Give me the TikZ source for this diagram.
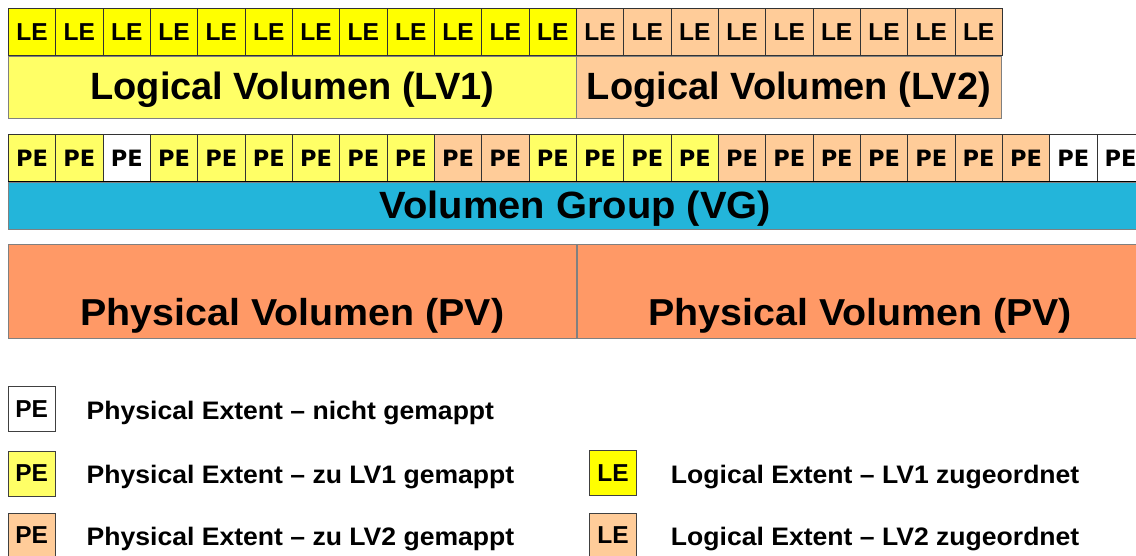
\documentclass[tikz,border=0pt]{standalone}
\usepackage{fontspec}
\setmainfont{Liberation Sans}
\newfontfamily\pefont{DejaVu Sans}
\newfontfamily\widefont[FakeStretch=1.05, Ligatures=TeX]{Liberation Sans}
\usetikzlibrary{positioning}

\definecolor{leyellow}{HTML}{FFFF00}
\definecolor{lvyellow}{HTML}{FFFF66}
\definecolor{lvpeach}{HTML}{FFCC99}
\definecolor{vgblue}{HTML}{23B5DA}
\definecolor{pvorange}{HTML}{FF9966}

\begin{document}
\begin{tikzpicture}[x=1pt, y=-1pt,
  lecell/.style={draw=black!80, line width=0.8pt, minimum width=47.33pt,
    minimum height=47pt, inner sep=0pt, anchor=north west,
    font=\bfseries\fontsize{24.5}{24}\selectfont},
  pecell/.style={lecell, font=\pefont\bfseries\fontsize{22.5}{23}\selectfont},
  bigbox/.style={draw=black!50, line width=0.8pt, inner sep=0pt, anchor=north west,
    text depth=0pt, font=\bfseries\fontsize{38}{38}\selectfont},
  bigtext/.style={inner sep=0pt, anchor=base, font=\widefont\bfseries\fontsize{37.5}{38}\selectfont},
  keybox/.style={draw=black!75, line width=0.8pt, minimum width=46.7pt,
    minimum height=45pt, inner sep=0pt, font=\bfseries\fontsize{24.5}{24}\selectfont},
  keytext/.style={right=31pt of #1, inner sep=0pt, text height=20pt, text depth=0pt,
    font=\widefont\bfseries\fontsize{25.3}{26}\selectfont}]
  \useasboundingbox (0,0) rectangle (1136,556);
  \clip (0,0) rectangle (1136,556);

  % logical extents
  \foreach \i in {0,...,11}
    \node[lecell, fill=leyellow] (le\i) at ({8+47.33*\i},8) {LE};
  \foreach \i in {12,...,20}
    \node[lecell, fill=lvpeach] (le\i) at ({8+47.33*\i},8) {LE};

  % logical volumes
  \node[bigbox, fill=lvyellow, minimum width=568pt, minimum height=62.5pt, text height=24pt]
    (lv1) at (le0.south west) {Logical Volumen (LV1)};
  \node[bigbox, fill=lvpeach, minimum width=425pt, minimum height=62.5pt, text height=24pt]
    (lv2) at (le12.south west) {Logical Volumen (LV2)};

  % physical extents
  \foreach \i in {2,22,23}
    \node[pecell, fill=white] (pe\i) at ({8+47.33*\i},134) {PE};
  \foreach \i in {0,1,3,4,5,6,7,8,11,12,13,14}
    \node[pecell, fill=lvyellow] (pe\i) at ({8+47.33*\i},134) {PE};
  \foreach \i in {9,10,15,16,...,21}
    \node[pecell, fill=lvpeach] (pe\i) at ({8+47.33*\i},134) {PE};

  % volume group
  \node[bigbox, fill=vgblue, minimum width=1134pt, minimum height=47pt, text height=25.6pt,
    font=\widefont\bfseries\fontsize{38}{38}\selectfont]
    (vg) at (pe0.south west) {Volumen Group (VG)};
  \draw[black, line width=0.8pt] (pe0.south west) -- (pe23.south east);

  % physical volumes
  \node[bigbox, fill=pvorange, minimum width=568pt, minimum height=94pt]
    (pv1) at (8,244) {};
  \node[bigbox, fill=pvorange, minimum width=566pt, minimum height=94pt]
    (pv2) at (pv1.north east) {};
  \node[bigtext] (pv1text) at ([yshift=13pt]pv1.south) {Physical Volumen (PV)};
  \node[bigtext] (pv2text) at ([yshift=13pt]pv2.south) {Physical Volumen (PV)};

  % legend
  \node[keybox, fill=white] (keype1) at (31.7,409.2) {PE};
  \node[keybox, fill=lvyellow] (keype2) at (31.7,473.5) {PE};
  \node[keybox, fill=lvpeach] (keype3) at (31.7,535.5) {PE};
  \node[keybox, fill=leyellow] (keyle1) at (613,473) {LE};
  \node[keybox, fill=lvpeach] (keyle2) at (613,535.5) {LE};

  \node[keytext=keype1] (keype1text) {Physical Extent -- nicht gemappt};
  \node[keytext=keype2] (keype2text) {Physical Extent -- zu LV1 gemappt};
  \node[keytext=keype3] (keype3text) {Physical Extent -- zu LV2 gemappt};
  \node[keytext=keyle1, right=34pt of keyle1] (keyle1text) {Logical Extent -- LV1 zugeordnet};
  \node[keytext=keyle2, right=34pt of keyle2] (keyle2text) {Logical Extent -- LV2 zugeordnet};
\end{tikzpicture}
\end{document}
